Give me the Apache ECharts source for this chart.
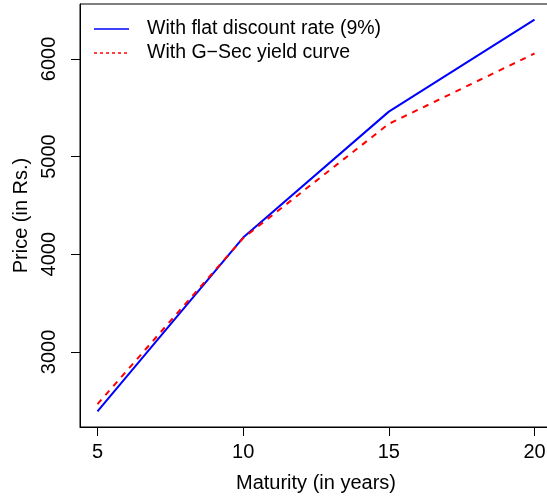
<!DOCTYPE html>
<html>
<head>
<meta charset="utf-8">
<script src="https://cdn.jsdelivr.net/npm/echarts@6/dist/echarts.min.js"></script>
<style>
  html, body { margin: 0; padding: 0; background: #fff; }
  #chart { width: 547px; height: 500px; }
</style>
</head>
<body>
<div id="chart"></div>
<script>
// Bond price against maturity under two discounting schemes
const maturity = [5, 10, 15, 20];
const flatRatePrice = [2391, 4171, 5460, 6402];
const gsecCurvePrice = [2465, 4165, 5335, 6055];
const seriesNames = ['With flat discount rate (9%)', 'With G\u2212Sec yield curve'];
const xTicks = [5, 10, 15, 20];
const yTicks = [3000, 4000, 5000, 6000];

const FONT = '"Liberation Sans", Arial, Helvetica, sans-serif';
const chart = echarts.init(document.getElementById('chart'), null, { renderer: 'canvas' });

const pairs = (xs, ys) => xs.map((x, i) => [x, ys[i]]);

chart.setOption({
  animation: false,
  backgroundColor: '#ffffff',
  grid: {
    left: 80, width: 472, top: 4, bottom: 73,
    outerBoundsMode: 'none', containLabel: false,
    show: true, borderColor: '#000', borderWidth: 1
  },
  xAxis: {
    type: 'value', min: 4.4, max: 20.6,
    name: 'Maturity (in years)', nameLocation: 'middle', nameGap: 46,
    nameTextStyle: { fontFamily: FONT, fontSize: 20, color: '#000' },
    axisLine: { show: true, onZero: false, lineStyle: { color: '#000', width: 1 } },
    axisTick: { show: true, length: 9, customValues: xTicks, lineStyle: { color: '#000' } },
    axisLabel: { customValues: xTicks, margin: 15, fontFamily: FONT, fontSize: 20, color: '#000' },
    splitLine: { show: false }
  },
  yAxis: {
    type: 'value', min: 2231, max: 6562,
    name: 'Price (in Rs.)', nameLocation: 'middle', nameGap: 48,
    nameTextStyle: { fontFamily: FONT, fontSize: 20, color: '#000' },
    axisLine: { show: true, onZero: false, lineStyle: { color: '#000', width: 1 } },
    axisTick: { show: true, length: 9, customValues: yTicks, lineStyle: { color: '#000' } },
    axisLabel: {
      customValues: yTicks, rotate: 90, margin: 21, fontFamily: FONT, fontSize: 20, color: '#000',
      formatter: v => String(v)
    },
    splitLine: { show: false }
  },
  series: [
    {
      name: seriesNames[0], type: 'line', data: pairs(maturity, flatRatePrice),
      showSymbol: false, symbol: 'none',
      lineStyle: { color: '#0000ff', width: 2 }
    },
    {
      name: seriesNames[1], type: 'line', data: pairs(maturity, gsecCurvePrice),
      showSymbol: false, symbol: 'none',
      lineStyle: { color: '#ff0000', width: 2, type: [6, 6] }
    }
  ],
  graphic: [
    { type: 'line', shape: { x1: 94, y1: 29, x2: 129, y2: 29 }, style: { stroke: '#0000ff', lineWidth: 1.5 } },
    { type: 'text', left: 147, top: 19, style: { text: seriesNames[0], font: '19.5px ' + FONT, fill: '#000' } },
    { type: 'line', shape: { x1: 94, y1: 53, x2: 129, y2: 53 }, style: { stroke: '#ff0000', lineWidth: 1.5, lineDash: [3, 3] } },
    { type: 'text', left: 147, top: 43, style: { text: seriesNames[1], font: '19.5px ' + FONT, fill: '#000' } }
  ]
});
</script>
</body>
</html>
